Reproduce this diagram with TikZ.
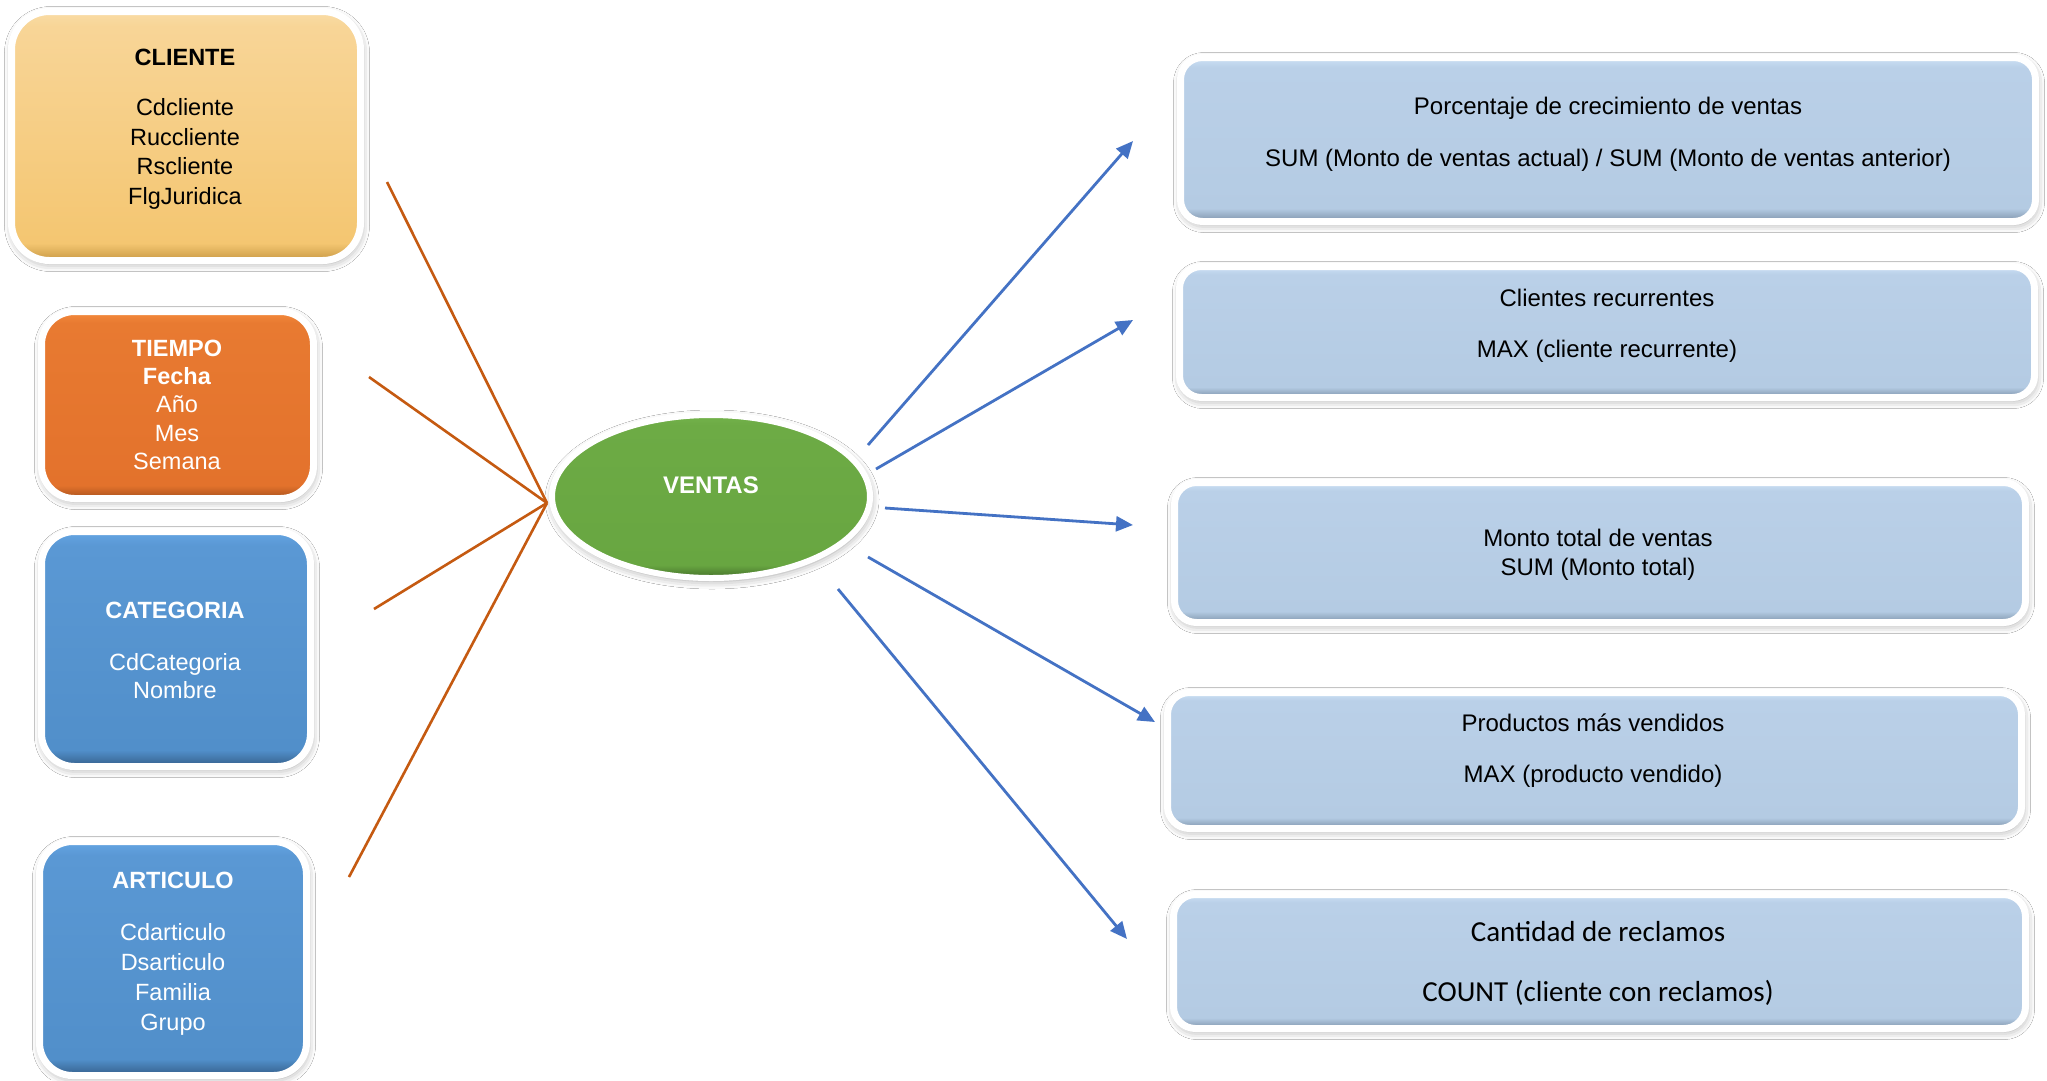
\documentclass[tikz,border=0pt]{standalone}
\usepackage{fontspec}
\setmainfont{Liberation Sans}
\newfontfamily\calibrifont{Carlito}
\usetikzlibrary{arrows.meta,shapes.geometric,shadows.blur}

% palette
\definecolor{goldTop}{HTML}{F9DCA6}
\definecolor{goldHigh}{HTML}{F8D597}
\definecolor{goldLow}{HTML}{F4C671}
\definecolor{goldEdge}{HTML}{C99A45}
\definecolor{orTop}{HTML}{F58B3C}
\definecolor{orHigh}{HTML}{E87A31}
\definecolor{orLow}{HTML}{E3722C}
\definecolor{orEdge}{HTML}{A9521C}
\definecolor{blTop}{HTML}{64A5E3}
\definecolor{blHigh}{HTML}{5A98D4}
\definecolor{blLow}{HTML}{518FCA}
\definecolor{blEdge}{HTML}{355F8A}
\definecolor{grTop}{HTML}{74B34C}
\definecolor{grHigh}{HTML}{6DAB45}
\definecolor{grLow}{HTML}{68A641}
\definecolor{grEdge}{HTML}{44702A}
\definecolor{ltTop}{HTML}{C9DEF3}
\definecolor{ltHigh}{HTML}{BAD0E8}
\definecolor{ltLow}{HTML}{B4CBE3}
\definecolor{ltEdge}{HTML}{7E93AA}
\definecolor{linkOrange}{HTML}{C55A11}
\definecolor{linkBlue}{HTML}{4472C4}

% card fills: dark bevel at the bottom, light rim at the top
\pgfdeclareverticalshading{goldcard}{100bp}{color(0bp)=(goldEdge); color(25bp)=(goldEdge); color(28.5bp)=(goldLow); color(72bp)=(goldHigh); color(75bp)=(goldTop); color(100bp)=(goldTop)}
\pgfdeclareverticalshading{orangecard}{100bp}{color(0bp)=(orEdge); color(25bp)=(orEdge); color(28.5bp)=(orLow); color(72bp)=(orHigh); color(75bp)=(orTop); color(100bp)=(orTop)}
\pgfdeclareverticalshading{bluecard}{100bp}{color(0bp)=(blEdge); color(25bp)=(blEdge); color(28.5bp)=(blLow); color(72bp)=(blHigh); color(75bp)=(blTop); color(100bp)=(blTop)}
\pgfdeclareverticalshading{greencard}{100bp}{color(0bp)=(grEdge); color(25bp)=(grEdge); color(29bp)=(grLow); color(72bp)=(grHigh); color(75bp)=(grTop); color(100bp)=(grTop)}
\pgfdeclareverticalshading{lightcard}{100bp}{color(0bp)=(ltEdge); color(25bp)=(ltEdge); color(29bp)=(ltLow); color(72bp)=(ltHigh); color(74.5bp)=(ltTop); color(100bp)=(ltTop)}

\begin{document}
\begin{tikzpicture}[x=1pt,y=-1pt,
  softshadow/.style={blur shadow={shadow xshift=1pt, shadow yshift=-3pt, shadow blur radius=8pt, shadow opacity=38}},
  card/.style={rectangle, draw=white, line width=7pt, inner sep=0pt, shade, softshadow},
  dimcard/.style={card, rounded corners=33pt},
  factcard/.style={card, shading=lightcard, rounded corners=22pt},
  boxtext/.style={inner sep=0pt, align=center},
  arialtext/.style={boxtext, font=\fontsize{23.5}{#1}\selectfont},
  facttext/.style={boxtext, font=\fontsize{24}{#1}\selectfont},
  orangelink/.style={draw=linkOrange, line width=2.6pt},
  bluelink/.style={draw=linkBlue, line width=2.8pt, -{Triangle[length=17pt,width=15pt]}}
]
\useasboundingbox[fill=white] (0,0) rectangle (2047,1080);

% dimension cards
\node[dimcard, shading=goldcard, rounded corners=38pt, minimum width=349pt, minimum height=249pt] (cliente) at (186,136) {};
\node[arialtext=29.5, text=black] (cliente-t) at (185,129)
  {\textbf{CLIENTE}\\[20.5pt]Cdcliente\\Ruccliente\\Rscliente\\FlgJuridica};

\node[dimcard, shading=orangecard, minimum width=272pt, minimum height=187pt] (tiempo) at (177.5,405) {};
\node[arialtext=28.3, text=white] (tiempo-t) at (177,404.6)
  {\textbf{TIEMPO}\\\textbf{Fecha}\\Año\\Mes\\Semana};

\node[dimcard, shading=bluecard, minimum width=269pt, minimum height=235pt] (categoria) at (176,649) {};
\node[arialtext=28, text=white] (categoria-t) at (175,650)
  {\textbf{CATEGORIA}\\[24pt]CdCategoria\\Nombre};

\node[dimcard, shading=bluecard, minimum width=267pt, minimum height=234pt] (articulo) at (173,958.5) {};
\node[arialtext=30, text=white] (articulo-t) at (173,953.5)
  {\textbf{ARTICULO}\\[22pt]Cdarticulo\\Dsarticulo\\Familia\\Grupo};

% fact
\node[ellipse, draw=white, line width=6pt, shade, shading=greencard, inner sep=0pt,
  minimum width=318pt, minimum height=163pt, softshadow,
  text=white, font=\fontsize{24}{28}\selectfont\bfseries, text height=17.2pt, text depth=23pt]
  (ventas) at (711,496.5) {VENTAS};

% measure cards
\node[factcard, minimum width=855pt, minimum height=164pt] (crecimiento) at (1608,139.5) {};
\node[facttext=27.5] (crecimiento-t) at (1608,133.8)
  {Porcentaje de crecimiento de ventas\\[24.5pt]SUM (Monto de ventas actual) / SUM (Monto de ventas anterior)};

\node[factcard, minimum width=855pt, minimum height=131pt] (recurrentes) at (1607,332) {};
\node[facttext=27.5] (recurrentes-t) at (1607,325.9)
  {Clientes recurrentes\\[23.5pt]MAX (cliente recurrente)};

\node[factcard, minimum width=851pt, minimum height=140pt] (monto) at (1600,552.5) {};
\node[facttext=29] (monto-t) at (1598,554.9)
  {Monto total de ventas\\SUM (Monto total)};

\node[factcard, minimum width=854pt, minimum height=136pt] (productos) at (1594.5,760.5) {};
\node[facttext=27.5] (productos-t) at (1593,750.9)
  {Productos más vendidos\\[23.5pt]MAX (producto vendido)};

\node[factcard, minimum width=852pt, minimum height=134pt] (reclamos) at (1599.5,961.5) {};
\node[boxtext, font=\calibrifont\fontsize{29}{35}\selectfont] (reclamos-t) at (1598,963.2)
  {Cantidad de reclamos\\[25.5pt]COUNT (cliente con reclamos)};

% dimension links
\coordinate (hub) at (547,503);
\coordinate (from-cliente) at (387,182);
\coordinate (from-tiempo) at (369,377);
\coordinate (from-categoria) at (374,609);
\coordinate (from-articulo) at (349,877);
\draw[orangelink] (from-cliente) -- (hub);
\draw[orangelink] (from-tiempo) -- (hub);
\draw[orangelink] (from-categoria) -- (hub);
\draw[orangelink] (from-articulo) -- (hub);

% measure arrows
\coordinate (s1) at (868,445);  \coordinate (e1) at (1133,141);
\coordinate (s2) at (876,469);  \coordinate (e2) at (1133,320);
\coordinate (s3) at (885,508);  \coordinate (e3) at (1133,525);
\coordinate (s4) at (868,557);  \coordinate (e4) at (1155,722);
\coordinate (s5) at (838,589);  \coordinate (e5) at (1127,939);
\draw[bluelink] (s1) -- (e1);
\draw[bluelink] (s2) -- (e2);
\draw[bluelink] (s3) -- (e3);
\draw[bluelink] (s4) -- (e4);
\draw[bluelink] (s5) -- (e5);
\end{tikzpicture}
\end{document}
